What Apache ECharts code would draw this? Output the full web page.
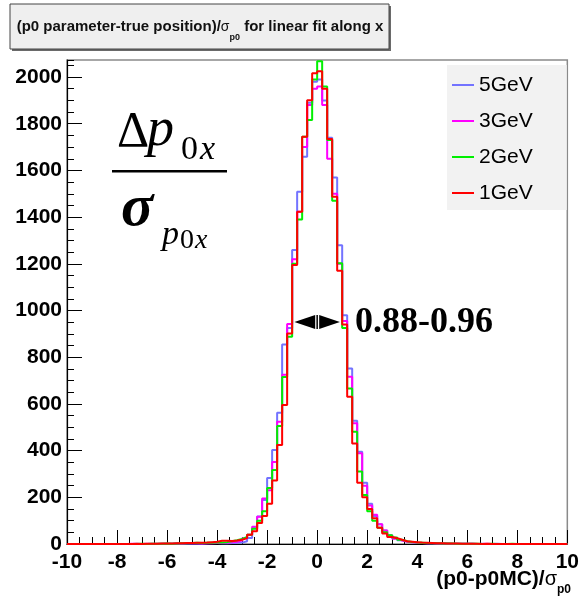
<!DOCTYPE html>
<html>
<head>
<meta charset="utf-8">
<script src="https://cdn.jsdelivr.net/npm/echarts@6/dist/echarts.min.js"></script>
<style>
html, body { margin: 0; padding: 0; background: #fff; }
#main { width: 582px; height: 597px; }
</style>
</head>
<body>
<div id="main"></div>
<script>
// Histogram binning: 100 bins of width 0.2 from -10 to 10
const binLow = -10;
const binWidth = 0.2;

// Bin contents, one value per bin, left to right
const counts5GeV = [
  0,0,0,0,0,0,0,0,0,0,
  0,0,0,1,0,0,1,0,1,1,
  1,2,1,2,2,3,2,3,4,4,
  3,3,4,5,6,12,26,67,118,188,
  283,403,562,855,925,1259,1509,1659,1890,1980,
  1990,1900,1740,1570,1280,980,752,528,395,262,
  172,120,85,58,38,25,16,11,7,5,
  4,3,3,2,2,2,1,1,1,1,
  1,0,1,0,0,1,0,0,0,0,
  0,0,0,0,0,0,0,0,0,0
];
const counts3GeV = [
  0,0,0,0,0,0,0,0,0,0,
  0,0,1,0,0,1,0,1,1,1,
  1,2,2,3,3,3,2,3,3,4,
  4,5,7,10,15,25,40,74,117,195,
  230,351,524,725,942,1220,1423,1700,1880,1950,
  1960,1880,1650,1500,1200,955,716,517,389,250,
  165,125,85,58,36,23,15,10,7,5,
  4,3,3,2,2,1,1,1,1,1,
  1,0,0,1,0,0,0,0,0,0,
  0,0,0,0,0,0,0,0,0,0
];
const counts2GeV = [
  0,0,0,0,0,0,0,0,0,0,
  0,0,0,0,1,0,1,1,1,2,
  1,2,3,3,4,5,4,5,5,6,
  6,8,12,16,22,30,40,65,100,140,
  240,317,505,715,888,1200,1390,1744,1816,1990,
  2068,1960,1730,1470,1203,925,666,481,310,210,
  140,100,70,50,38,28,18,12,9,6,
  5,4,3,3,2,2,2,1,1,1,
  1,1,0,0,1,0,0,0,1,0,
  0,0,0,0,0,0,0,0,0,0
];
const counts1GeV = [
  0,0,0,0,0,0,0,0,0,0,
  0,0,0,1,0,1,1,1,2,2,
  2,3,3,4,4,5,5,6,8,10,
  14,14,13,15,18,25,40,55,90,120,
  172,272,424,595,902,1195,1423,1744,1901,2016,
  2025,1950,1735,1487,1170,940,631,430,262,200,
  150,110,70,45,30,25,18,12,10,8,
  6,5,4,3,3,2,2,2,1,1,
  1,1,0,1,0,0,0,0,0,0,
  0,0,0,0,0,0,0,0,0,0
];

const seriesNames = ['5GeV', '3GeV', '2GeV', '1GeV'];
const seriesCounts = [counts5GeV, counts3GeV, counts2GeV, counts1GeV];
const seriesColors = ['#7373ff', '#ff00ff', '#00f000', '#ff0000'];

const xMin = -10, xMax = 10, xMajor = 2, xMinor = 0.5;
const yMin = 0, yMax = 2073, yMajor = 200, yMinor = 50;

// Half-width marker drawn across the peak at half height
const widthMarker = { from: -0.91, to: 0.91, level: 951, label: '0.88-0.96' };

const sans = 'Liberation Sans, Arial, Helvetica, sans-serif';
const serif = 'Liberation Serif, Times New Roman, serif';

// Step outline: each bin's left edge with its content, closed at the last right edge
function stepPoints(counts) {
  const pts = counts.map((c, i) => [binLow + i * binWidth, c]);
  pts.push([binLow + counts.length * binWidth, counts[counts.length - 1]]);
  return pts;
}

const chart = echarts.init(document.getElementById('main'), null, { renderer: 'canvas' });

const tickLabelStyle = {
  color: '#000', fontSize: 21, fontWeight: 'bold', fontFamily: sans,
  formatter: v => String(v)
};

const option = {
  animation: false,
  backgroundColor: '#fff',
  grid: {
    left: 67, right: 9, top: 60, bottom: 53,
    show: true, borderColor: '#8a8a8a', borderWidth: 1.5, backgroundColor: 'transparent'
  },
  xAxis: [
    {
      type: 'value', min: xMin, max: xMax, interval: xMajor, position: 'bottom',
      axisLine: { show: true, onZero: false, lineStyle: { color: '#000', width: 1.2 } },
      axisTick: { show: true, inside: true, length: 14, lineStyle: { color: '#000', width: 1 } },
      axisLabel: Object.assign({ margin: 8, showMinLabel: true, showMaxLabel: true }, tickLabelStyle),
      splitLine: { show: false }
    },
    {
      type: 'value', min: xMin, max: xMax, interval: xMinor, position: 'bottom',
      axisLine: { show: false, onZero: false },
      axisTick: { show: true, inside: true, length: 7, lineStyle: { color: '#000', width: 1 } },
      axisLabel: { show: false },
      splitLine: { show: false }
    }
  ],
  yAxis: [
    {
      type: 'value', min: yMin, max: yMax, interval: yMajor, position: 'left',
      axisLine: { show: true, onZero: false, lineStyle: { color: '#000', width: 1.2 } },
      axisTick: { show: true, inside: true, length: 15, lineStyle: { color: '#000', width: 1 } },
      axisLabel: Object.assign({ margin: 5, showMaxLabel: false }, tickLabelStyle),
      splitLine: { show: false }
    },
    {
      type: 'value', min: yMin, max: yMax, interval: yMinor, position: 'left',
      axisLine: { show: false, onZero: false },
      axisTick: { show: true, inside: true, length: 7, lineStyle: { color: '#000', width: 1 } },
      axisLabel: { show: false },
      splitLine: { show: false }
    }
  ],
  legend: {
    orient: 'vertical', left: 447, top: 65,
    padding: [8, 34, 5, 5], itemGap: 12, itemWidth: 22, itemHeight: 2,
    icon: 'rect',
    backgroundColor: '#f2f2f2', borderWidth: 0,
    textStyle: { fontSize: 21, fontFamily: sans, color: '#000', lineHeight: 24 },
    data: seriesNames
  },
  series: seriesNames.map((name, i) => ({
    name: name,
    type: 'line',
    step: 'end',
    xAxisIndex: 0, yAxisIndex: 0,
    symbol: 'none',
    silent: true,
    clip: true,
    z: 3 + i,
    color: seriesColors[i],
    itemStyle: { color: seriesColors[i] },
    lineStyle: { color: seriesColors[i], width: 2 },
    data: stepPoints(seriesCounts[i])
  }))
};

chart.setOption(option);

// Annotations: title box, formula, half-width marker and axis title
function serifText(str, x, baseline, size, style) {
  return {
    type: 'text', x: x, y: baseline - 0.35 * size, z: 20,
    style: {
      text: str, fill: '#000', align: 'left', verticalAlign: 'middle',
      font: (style || '') + ' ' + size + 'px ' + serif
    }
  };
}

const pL = chart.convertToPixel({ xAxisIndex: 0, yAxisIndex: 0 }, [widthMarker.from, widthMarker.level]);
const pR = chart.convertToPixel({ xAxisIndex: 0, yAxisIndex: 0 }, [widthMarker.to, widthMarker.level]);
const my = pL[1];
const mx = (pL[0] + pR[0]) / 2;
const head = 7;

const graphics = [
  // title box with drop shadow
  { type: 'rect', shape: { x: 12, y: 6, width: 379, height: 45 }, style: { fill: '#6a6a6a' }, z: 10 },
  { type: 'rect', shape: { x: 10, y: 4, width: 379, height: 45 }, style: { fill: '#efefef', stroke: '#444', lineWidth: 1 }, z: 11 },
  {
    type: 'text', x: 200, y: 27, z: 12,
    style: {
      text: '(p0 parameter-true position)/{s|σ}{sub|p0} for linear fit along x',
      fill: '#111', align: 'center', verticalAlign: 'middle',
      font: 'bold 15px ' + sans,
      rich: {
        s: { font: '14px ' + sans, fill: '#111', lineHeight: 20 },
        sub: { font: 'bold 9px ' + sans, fill: '#111', verticalAlign: 'bottom', lineHeight: 10, padding: [0, 0, -5, 0] }
      }
    }
  },
  // formula: Δp0x / σp0x
  serifText('Δ', 117, 150, 50, ''),
  serifText('p', 147, 150, 54, 'italic'),
  serifText('0', 181, 162, 34, ''),
  serifText('x', 200, 162, 34, 'italic'),
  { type: 'rect', shape: { x: 112, y: 170, width: 115, height: 2.5 }, style: { fill: '#000' }, z: 20 },
  serifText('σ', 121, 230, 60, 'bold italic'),
  serifText('p', 162, 247, 34, 'italic'),
  serifText('0', 180, 250, 28, ''),
  serifText('x', 195, 250, 28, 'italic'),
  // half-width marker
  { type: 'polygon', z: 20, shape: { points: [[pL[0], my], [mx - 2, my - head], [mx - 2, my + head]] }, style: { fill: '#000' } },
  { type: 'polygon', z: 20, shape: { points: [[pR[0], my], [mx + 2, my - head], [mx + 2, my + head]] }, style: { fill: '#000' } },
  { type: 'rect', z: 21, shape: { x: mx - 0.75, y: my - head, width: 1.5, height: 2 * head }, style: { fill: '#000' } },
  {
    type: 'text', x: pR[0] + 15, y: my + 1, z: 20,
    style: { text: widthMarker.label, fill: '#000', align: 'left', verticalAlign: 'middle', font: 'bold 36px ' + serif }
  },
  // x axis title
  {
    type: 'text', x: 571, y: 579, z: 20,
    style: {
      text: '(p0-p0MC)/{s|σ}{sub|p0}',
      fill: '#000', align: 'right', verticalAlign: 'middle',
      font: 'bold 21px ' + sans,
      rich: {
        s: { font: '20px ' + sans, fill: '#000', lineHeight: 22 },
        sub: { font: 'bold 12px ' + sans, fill: '#000', verticalAlign: 'bottom', lineHeight: 12, padding: [0, 0, -6, 0] }
      }
    }
  }
];

chart.setOption({ graphic: { elements: graphics } });
</script>
</body>
</html>
